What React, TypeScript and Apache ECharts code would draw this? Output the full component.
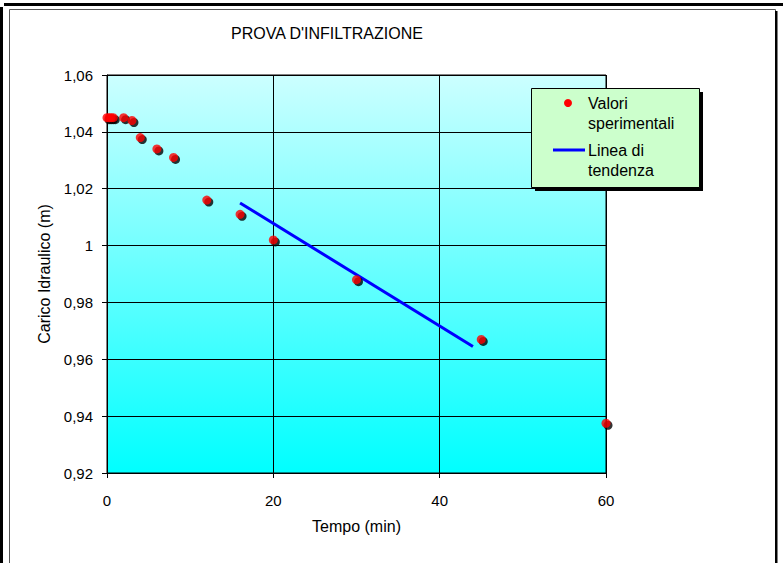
import React, { useEffect, useRef } from "react";
import * as echarts from "echarts";

const TITLE = "PROVA D'INFILTRAZIONE";
const X_NAME = "Tempo (min)";
const Y_NAME = "Carico Idraulico (m)";
const LEGEND_POINTS = ["Valori", "sperimentali"];
const LEGEND_LINE = ["Linea di", "tendenza"];

const timeMin = [0, 0.25, 0.5, 0.75, 2, 3, 4, 6, 8, 12, 16, 20, 30, 45, 60];
const headM = [1.045, 1.045, 1.045, 1.045, 1.045, 1.044, 1.038, 1.034, 1.031, 1.016, 1.011, 1.002, 0.988, 0.967, 0.9375];

const trendTime = [16, 44];
const trendHead = [1.015, 0.9645];

const FONT = "'Liberation Sans', Arial, sans-serif";

export default function App() {
  const ref = useRef<HTMLDivElement>(null);
  useEffect(() => {
    if (!ref.current) return;
    const chart = echarts.init(ref.current, null, { renderer: "svg" });
    const pts = timeMin.map((t, i) => [t, headM[i]]);
    const trend = trendTime.map((t, i) => [t, trendHead[i]]);
    chart.setOption({
      animation: false,
      backgroundColor: "#ffffff",
      textStyle: { fontFamily: FONT },
      grid: {
        left: 107,
        right: 177,
        top: 75,
        bottom: 90,
        show: true,
        borderColor: "#000",
        borderWidth: 1,
        backgroundColor: new echarts.graphic.LinearGradient(0, 0, 0, 1, [
          { offset: 0, color: "#ccffff" },
          { offset: 1, color: "#00ffff" },
        ]),
      },
      xAxis: {
        type: "value",
        min: 0,
        max: 60,
        interval: 20,
        name: X_NAME,
        nameLocation: "middle",
        nameGap: 45,
        nameTextStyle: { color: "#000", fontSize: 16, fontFamily: FONT },
        axisLine: { lineStyle: { color: "#000", width: 1 } },
        axisTick: { show: true, length: 5, lineStyle: { color: "#000" } },
        axisLabel: { color: "#000", fontSize: 15, margin: 20, fontFamily: FONT },
        splitLine: { show: true, lineStyle: { color: "#000", width: 1 } },
      },
      yAxis: {
        type: "value",
        min: 0.92,
        max: 1.06,
        interval: 0.02,
        name: Y_NAME,
        nameLocation: "middle",
        nameGap: 54,
        nameTextStyle: { color: "#000", fontSize: 16, fontFamily: FONT },
        axisLine: { show: true, lineStyle: { color: "#000", width: 1 } },
        axisTick: { show: true, length: 5, lineStyle: { color: "#000" } },
        axisLabel: {
          color: "#000",
          fontSize: 15,
          margin: 14,
          fontFamily: FONT,
          formatter: (v: number) => String(Math.round(v * 100) / 100).replace(".", ","),
        },
        splitLine: { show: true, lineStyle: { color: "#000", width: 1 } },
      },
      series: [
        {
          type: "line",
          data: trend,
          showSymbol: false,
          lineStyle: { color: "#0000ff", width: 3 },
          silent: true,
          z: 2,
        },
        {
          type: "scatter",
          data: pts,
          symbol: "circle",
          symbolSize: 9,
          symbolOffset: [2, 2],
          itemStyle: { color: "#000" },
          clip: false,
          silent: true,
          z: 3,
        },
        {
          type: "scatter",
          data: pts,
          symbol: "circle",
          symbolSize: 9,
          itemStyle: { color: "#ff0000" },
          clip: false,
          silent: true,
          z: 4,
        },
      ],
      graphic: [
        { type: "rect", shape: { x: 4, y: 3, width: 779, height: 3 }, style: { fill: "#000" }, silent: true },
        { type: "rect", shape: { x: 0, y: 7, width: 3, height: 556 }, style: { fill: "#000" }, silent: true },
        { type: "rect", shape: { x: 9.5, y: 9.5, width: 766, height: 600 }, style: { fill: "none", stroke: "#555", lineWidth: 1 }, silent: true },
        { type: "rect", shape: { x: 775, y: 11, width: 2.5, height: 552 }, style: { fill: "#000" }, silent: true },
        {
          type: "text",
          x: 327,
          y: 33,
          style: { text: TITLE, fill: "#000", font: `16px ${FONT}`, textAlign: "center", textVerticalAlign: "middle" },
          silent: true,
        },
        { type: "rect", shape: { x: 535, y: 92, width: 168, height: 99 }, style: { fill: "#000" }, silent: true, z: 10 },
        { type: "rect", shape: { x: 531.5, y: 88.5, width: 168, height: 99 }, style: { fill: "#ccffcc", stroke: "#000", lineWidth: 1 }, silent: true, z: 11 },
        { type: "circle", shape: { cx: 568, cy: 103, r: 4 }, style: { fill: "#ff0000" }, silent: true, z: 12 },
        {
          type: "text",
          x: 588,
          y: 103,
          style: { text: LEGEND_POINTS[0], fill: "#000", font: `16px ${FONT}`, textVerticalAlign: "middle" },
          silent: true,
          z: 12,
        },
        {
          type: "text",
          x: 588,
          y: 123,
          style: { text: LEGEND_POINTS[1], fill: "#000", font: `16px ${FONT}`, textVerticalAlign: "middle" },
          silent: true,
          z: 12,
        },
        { type: "line", shape: { x1: 553, y1: 150, x2: 585, y2: 150 }, style: { stroke: "#0000ff", lineWidth: 3 }, silent: true, z: 12 },
        {
          type: "text",
          x: 588,
          y: 150,
          style: { text: LEGEND_LINE[0], fill: "#000", font: `16px ${FONT}`, textVerticalAlign: "middle" },
          silent: true,
          z: 12,
        },
        {
          type: "text",
          x: 588,
          y: 170,
          style: { text: LEGEND_LINE[1], fill: "#000", font: `16px ${FONT}`, textVerticalAlign: "middle" },
          silent: true,
          z: 12,
        },
      ],
    });
    return () => chart.dispose();
  }, []);
  return <div ref={ref} style={{ position: "fixed", left: 0, top: 0, width: 783, height: 563 }} />;
}
